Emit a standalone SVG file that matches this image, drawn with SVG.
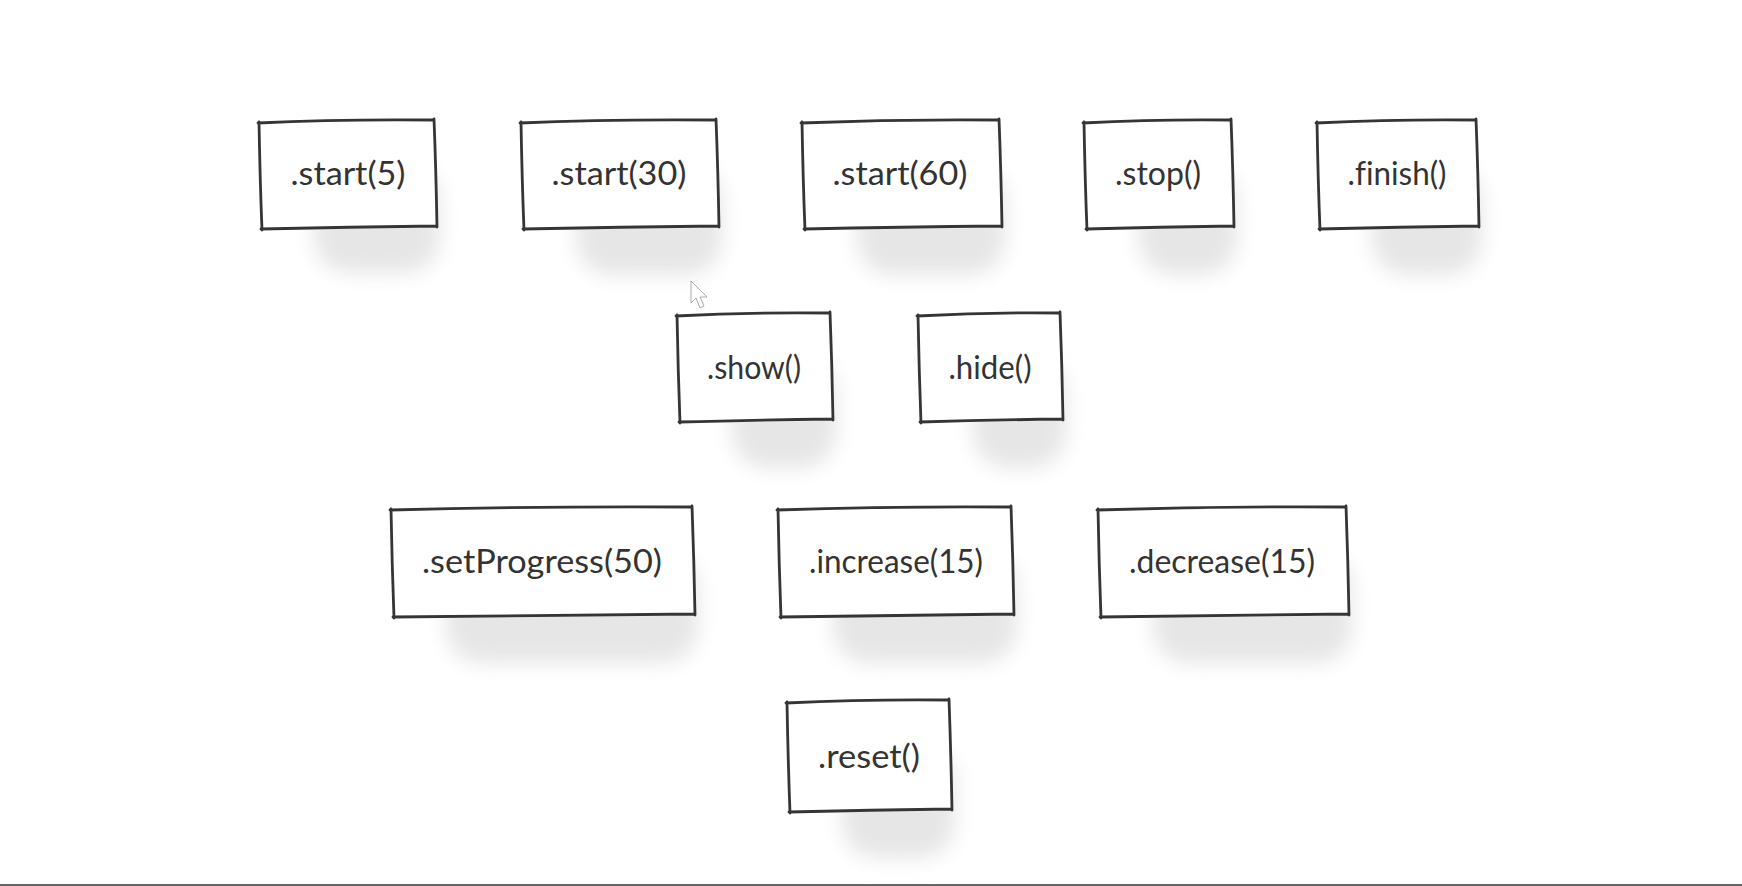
<svg xmlns="http://www.w3.org/2000/svg" width="1742" height="886" viewBox="0 0 1742 886">
<defs>
<filter id="blur" x="-30%" y="-50%" width="160%" height="200%"><feGaussianBlur stdDeviation="10"/></filter>
<style>
.sh{fill:#e6e6e6;filter:url(#blur)}
.bx{fill:#fff;stroke:none}
.ed{fill:none;stroke:#353535;stroke-width:2.8;stroke-linecap:round;stroke-linejoin:round}
.tx{font-family:Lato,"Open Sans",sans-serif;font-size:32px;fill:#333;text-anchor:middle;font-variant-ligatures:none}
</style>
</defs>
<rect width="1742" height="886" fill="#fff"/>
<g id="shadows">
<rect class="sh" x="314" y="165" width="126" height="108" rx="35"/>
<rect class="sh" x="576" y="165" width="146" height="110" rx="35"/>
<rect class="sh" x="857" y="165" width="148" height="110" rx="35"/>
<rect class="sh" x="1139" y="165" width="98" height="110" rx="35"/>
<rect class="sh" x="1372" y="165" width="110" height="110" rx="35"/>
<rect class="sh" x="732" y="358" width="104" height="110" rx="35"/>
<rect class="sh" x="973" y="358" width="93" height="110" rx="35"/>
<rect class="sh" x="446" y="552" width="252" height="111" rx="35"/>
<rect class="sh" x="833" y="552" width="184" height="111" rx="35"/>
<rect class="sh" x="1153" y="552" width="199" height="111" rx="35"/>
<rect class="sh" x="842" y="745" width="113" height="113" rx="35"/>
</g>
<g id="n1"><path class="bx" d="M259 122 L435 121 L436 228 L261 229 Z"/><path class="ed" d="M258 123 Q340 119 434 120 M434 119 Q436 170 437 227 M437 226 Q350 227 261 229 M262 230 Q260 180 259 122"/><text class="tx" x="348" y="185" textLength="115" lengthAdjust="spacingAndGlyphs">.start(5)</text></g>
<g id="n2"><path class="bx" d="M521 122 L717 121 L718 228 L523 229 Z"/><path class="ed" d="M520 123 Q610 119 716 120 M716 119 Q718 170 719 227 M719 226 Q620 227 523 229 M524 230 Q522 180 521 122"/><text class="tx" x="619" y="185" textLength="135" lengthAdjust="spacingAndGlyphs">.start(30)</text></g>
<g id="n3"><path class="bx" d="M802 122 L1000 121 L1001 228 L804 229 Z"/><path class="ed" d="M801 123 Q900 119 999 120 M999 119 Q1001 170 1002 227 M1002 226 Q900 227 804 229 M805 230 Q803 180 802 122"/><text class="tx" x="900" y="185" textLength="135" lengthAdjust="spacingAndGlyphs">.start(60)</text></g>
<g id="n4"><path class="bx" d="M1084 122 L1232 121 L1233 228 L1086 229 Z"/><path class="ed" d="M1083 123 Q1160 119 1231 120 M1231 119 Q1233 170 1234 227 M1234 226 Q1160 227 1086 229 M1087 230 Q1085 180 1084 122"/><text class="tx" x="1158" y="185" textLength="86" lengthAdjust="spacingAndGlyphs">.stop()</text></g>
<g id="n5"><path class="bx" d="M1317 122 L1477 121 L1478 228 L1319 229 Z"/><path class="ed" d="M1316 123 Q1400 119 1476 120 M1476 119 Q1478 170 1479 227 M1479 226 Q1400 227 1319 229 M1320 230 Q1318 180 1317 122"/><text class="tx" x="1397" y="185" textLength="99" lengthAdjust="spacingAndGlyphs">.finish()</text></g>
<g id="n6"><path class="bx" d="M677 315 L831 314 L832 421 L679 422 Z"/><path class="ed" d="M676 316 Q750 312 830 313 M830 312 Q832 365 833 420 M833 419 Q750 420 679 422 M680 423 Q678 370 677 315"/><text class="tx" x="754" y="379" textLength="94" lengthAdjust="spacingAndGlyphs">.show()</text></g>
<g id="n7"><path class="bx" d="M918 315 L1061 314 L1062 421 L920 422 Z"/><path class="ed" d="M917 316 Q990 312 1060 313 M1060 312 Q1062 365 1063 420 M1063 419 Q990 420 920 422 M921 423 Q919 370 918 315"/><text class="tx" x="990" y="379" textLength="83" lengthAdjust="spacingAndGlyphs">.hide()</text></g>
<g id="n8"><path class="bx" d="M391 509 L693 508 L694 616 L393 617 Z"/><path class="ed" d="M390 510 Q540 506 692 507 M692 506 Q694 560 695 615 M695 614 Q540 615 393 617 M394 618 Q392 565 391 509"/><text class="tx" x="542" y="573" textLength="240" lengthAdjust="spacingAndGlyphs">.setProgress(50)</text></g>
<g id="n9"><path class="bx" d="M778 509 L1012 508 L1013 616 L780 617 Z"/><path class="ed" d="M777 510 Q900 506 1011 507 M1011 506 Q1013 560 1014 615 M1014 614 Q900 615 780 617 M781 618 Q779 565 778 509"/><text class="tx" x="896" y="573" textLength="174" lengthAdjust="spacingAndGlyphs">.increase(15)</text></g>
<g id="n10"><path class="bx" d="M1098 509 L1347 508 L1348 616 L1100 617 Z"/><path class="ed" d="M1097 510 Q1220 506 1346 507 M1346 506 Q1348 560 1349 615 M1349 614 Q1220 615 1100 617 M1101 618 Q1099 565 1098 509"/><text class="tx" x="1222" y="573" textLength="186" lengthAdjust="spacingAndGlyphs">.decrease(15)</text></g>
<g id="n11"><path class="bx" d="M787 702 L950 701 L951 811 L789 812 Z"/><path class="ed" d="M786 703 Q870 699 949 700 M949 699 Q951 755 952 810 M952 809 Q870 810 789 812 M790 813 Q788 760 787 702"/><text class="tx" x="869" y="768" textLength="102" lengthAdjust="spacingAndGlyphs">.reset()</text></g>
<g id="connectors"></g>
<path d="M691 281 L691 303 L696 298 L700 308 L704 306 L700 297 L707 297 Z" fill="#fff" stroke="#aaa" stroke-width="1"/>
<rect x="0" y="884" width="1742" height="2" fill="#666"/>
</svg>
